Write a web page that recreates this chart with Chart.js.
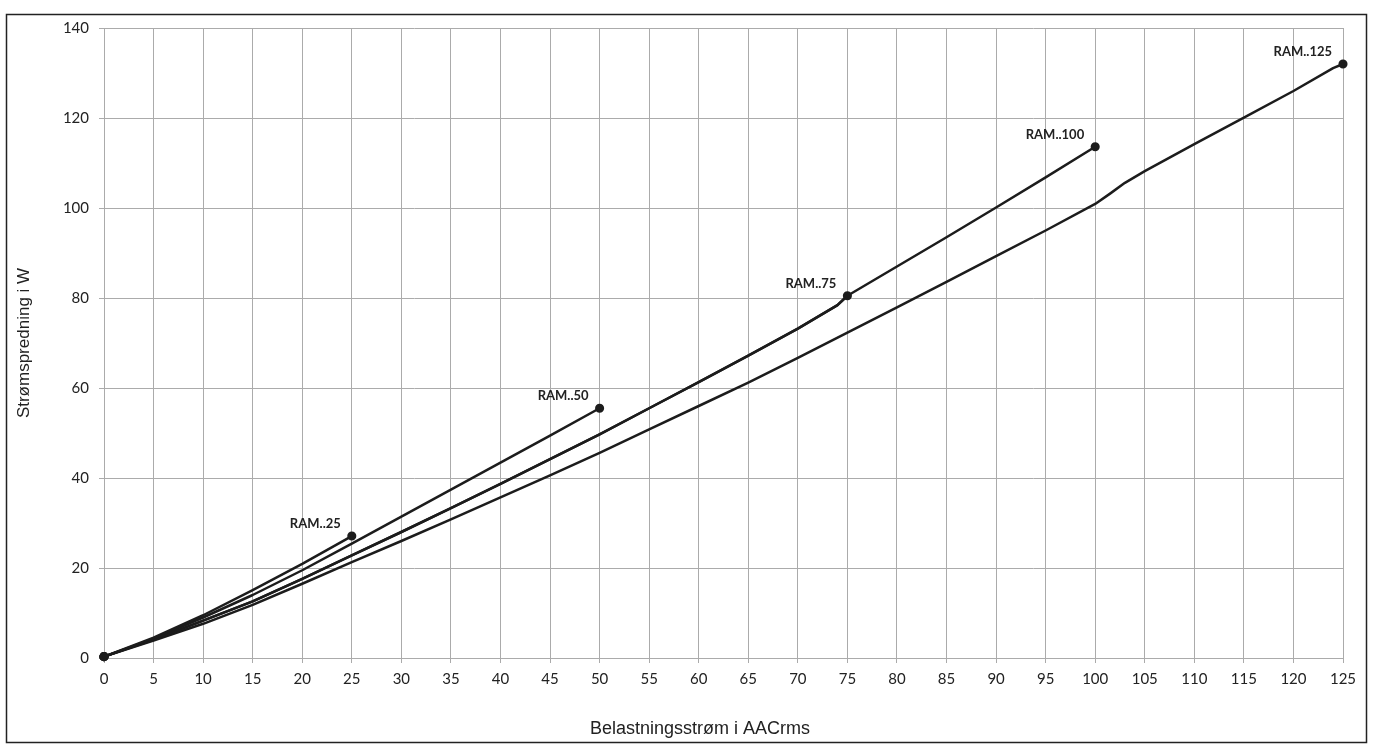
<!DOCTYPE html>
<html>
<head>
<meta charset="utf-8">
<script src="https://cdn.jsdelivr.net/npm/chart.js@4"></script>
<style>body{margin:0;background:#fff}</style>
</head>
<body>
<canvas id="chart" width="1375" height="755"></canvas>
<script>
// Navne på kurverne
const seriesNames = ['RAM..25', 'RAM..50', 'RAM..75', 'RAM..100', 'RAM..125'];
const xTitle = 'Belastningsstrøm i AACrms';
const yTitle = 'Strømspredning i W';

// Strøm (A) og effekttab (W) aflæst for hver kurve
const ram25Current = [0, 5, 10, 15, 20, 25];
const ram25Power = [0.3, 4.5, 9.5, 15.1, 20.9, 27.1];

const ram50Current = [0, 5, 10, 15, 20, 25, 30, 35, 40, 45, 50];
const ram50Power = [0.3, 4.3, 9.0, 14.0, 19.5, 25.4, 31.4, 37.4, 43.4, 49.4, 55.5];

const ram75Current = [0, 5, 10, 15, 20, 25, 30, 35, 40, 45, 50, 55, 60, 65, 70, 74, 75];
const ram75Power = [0.3, 4.1, 8.3, 12.6, 17.6, 22.8, 28.0, 33.3, 38.7, 44.2, 49.7, 55.5, 61.3, 67.2, 73.2, 78.4, 80.5];

const ram100Current = [0, 5, 10, 15, 20, 25, 30, 35, 40, 45, 50, 55, 60, 65, 70, 74, 75, 80, 85, 90, 95, 100];
const ram100Power = [0.3, 4.1, 8.3, 12.6, 17.6, 22.8, 28.0, 33.3, 38.7, 44.2, 49.7, 55.5, 61.3, 67.2, 73.2, 78.4, 80.5, 87.0, 93.5, 100.1, 106.8, 113.6];

const ram125Current = [0, 5, 10, 15, 20, 25, 30, 35, 40, 45, 50, 55, 60, 65, 70, 75, 80, 85, 90, 95, 100, 101.5, 103, 105, 110, 115, 120, 124, 125];
const ram125Power = [0.3, 3.9, 7.6, 11.8, 16.5, 21.3, 26.0, 30.8, 35.7, 40.6, 45.6, 50.8, 56.0, 61.2, 66.7, 72.3, 77.9, 83.6, 89.3, 95.0, 100.9, 103.2, 105.6, 108.2, 114.2, 120.1, 126.0, 131.1, 132.0];

const currents = [ram25Current, ram50Current, ram75Current, ram100Current, ram125Current];
const powers = [ram25Power, ram50Power, ram75Power, ram100Power, ram125Power];

function toPoints(xs, ys) {
    return xs.map((x, i) => ({ x: x, y: ys[i] }));
}

const datasets = seriesNames.map((name, i) => ({
    label: name,
    data: toPoints(currents[i], powers[i]),
    borderColor: '#1c1c1c',
    backgroundColor: '#1c1c1c',
    borderWidth: 2.5,
    tension: 0,
    borderJoinStyle: 'round',
    pointRadius: (c) => (c.dataIndex === c.dataset.data.length - 1 || c.dataIndex === 0) ? 3.3 : 0,
    pointHoverRadius: 0,
    clip: false,
}));

// Hvid baggrund, ramme og x-aksens titel
const frame = {
    id: 'frame',
    beforeDraw(chart) {
        const ctx = chart.ctx;
        ctx.save();
        ctx.fillStyle = '#fff';
        ctx.fillRect(0, 0, chart.width, chart.height);
        ctx.strokeStyle = '#222';
        ctx.lineWidth = 1.5;
        ctx.strokeRect(6.5, 14.5, 1360, 728);
        ctx.fillStyle = '#222';
        ctx.font = '18px "Liberation Sans"';
        ctx.textAlign = 'center';
        ctx.textBaseline = 'middle';
        ctx.fillText(xTitle, 700, 729);
        ctx.restore();
    }
};

// Etiket ved hver kurves slutpunkt
const endLabels = {
    id: 'endLabels',
    afterDatasetsDraw(chart) {
        const ctx = chart.ctx;
        ctx.save();
        ctx.font = 'bold 13px Lato';
        ctx.fillStyle = '#222';
        ctx.textAlign = 'right';
        ctx.textBaseline = 'middle';
        chart.data.datasets.forEach((ds, i) => {
            const pts = chart.getDatasetMeta(i).data;
            const p = pts[pts.length - 1];
            ctx.fillText(ds.label, p.x - 11, p.y - 12);
        });
        ctx.restore();
    }
};

const gridColor = '#ababab';

new Chart(document.getElementById('chart'), {
    type: 'line',
    data: { datasets },
    plugins: [frame, endLabels],
    options: {
        responsive: false,
        animation: false,
        layout: { padding: { left: 6, top: 28, right: 32, bottom: 13 } },
        plugins: { legend: { display: false }, tooltip: { enabled: false } },
        scales: {
            x: {
                type: 'linear',
                min: 0,
                max: 125,
                afterFit: (s) => { s.height = 84; },
                ticks: { stepSize: 5, color: '#222', padding: 7, font: { family: 'Lato', size: 15 } },
                grid: { color: gridColor, tickLength: 5 },
                border: { color: gridColor }
            },
            y: {
                min: 0,
                max: 140,
                afterFit: (s) => { s.width = 98; },
                ticks: { stepSize: 20, color: '#222', padding: 10, font: { family: 'Lato', size: 15 } },
                grid: { color: gridColor, tickLength: 5 },
                border: { color: gridColor },
                title: {
                    display: true,
                    text: yTitle,
                    color: '#222',
                    font: { family: 'Liberation Sans', size: 17 },
                    padding: { top: 8, bottom: 4 }
                }
            }
        }
    }
});
</script>
</body>
</html>
